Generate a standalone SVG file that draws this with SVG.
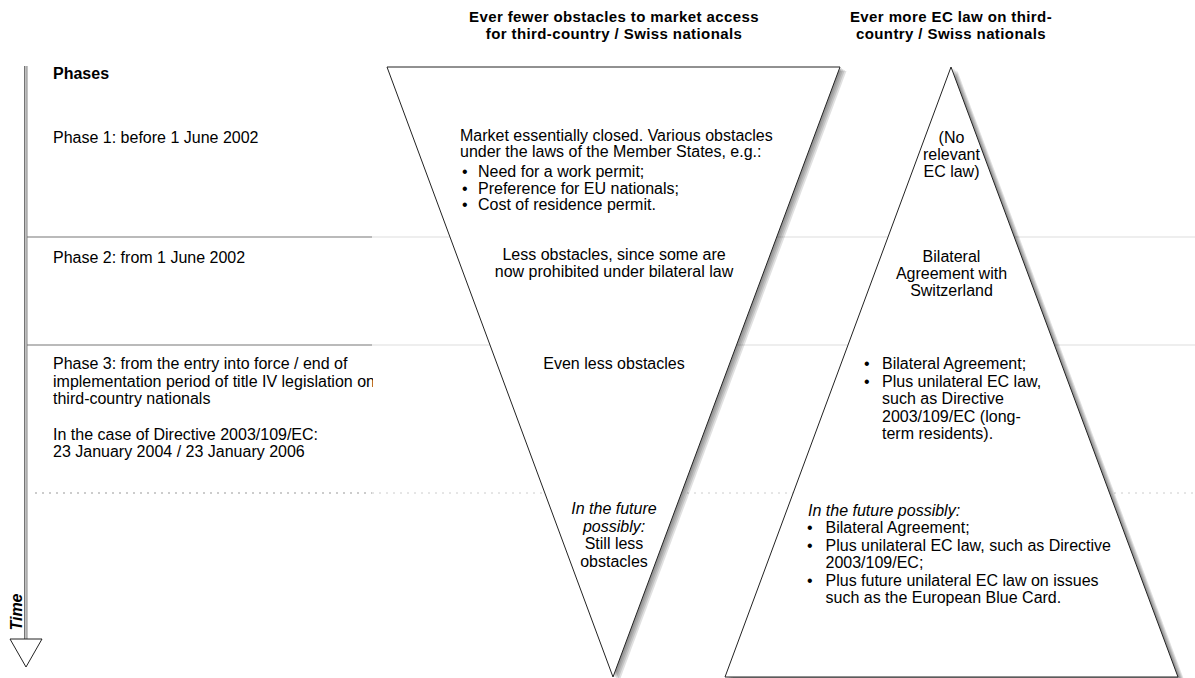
<svg xmlns="http://www.w3.org/2000/svg" width="1195" height="678" viewBox="0 0 1195 678">
<style>
text{font-family:"Liberation Sans",Arial,sans-serif;font-size:16px;fill:#000}
.h{font-weight:bold;font-size:15px;letter-spacing:0.4px;text-anchor:middle}
.b{font-weight:bold}
.c{text-anchor:middle}
.i{font-style:italic}
.tri{fill:#fff;stroke:#222;stroke-width:1}
.shd{fill:#000;fill-opacity:0.12}
.dk{stroke:#777;stroke-width:1.2}
.lt{stroke:#ddd;stroke-width:1.2}
.dd{stroke:#999;stroke-width:1;stroke-dasharray:2 5}
.dl{stroke:#ccc;stroke-width:1;stroke-dasharray:2 5}
</style>
<defs>
<clipPath id="lc"><rect x="0" y="0" width="373" height="678"/></clipPath>
</defs>
<rect width="1195" height="678" fill="#fff"/>

<g id="grid">
<line class="dk" x1="27" y1="237" x2="372" y2="237"/>
<line class="lt" x1="372" y1="237" x2="1195" y2="237"/>
<line class="dk" x1="27" y1="345" x2="372" y2="345"/>
<line class="lt" x1="372" y1="345" x2="1195" y2="345"/>
<line class="dd" x1="35" y1="493" x2="372" y2="493"/>
<line class="dl" x1="372" y1="493" x2="1195" y2="493"/>
</g>

<g id="time-axis">
<line x1="24.6" y1="66" x2="24.6" y2="639" stroke="#666" stroke-width="1"/>
<line x1="26.9" y1="66" x2="26.9" y2="639" stroke="#666" stroke-width="1"/>
<line x1="25.75" y1="66" x2="25.75" y2="639" stroke="#bbb" stroke-width="1.3"/>
<polygon points="10,639 42,639 26,667" fill="#fff" stroke="#222" stroke-width="1"/>
<text transform="translate(22,612) rotate(-90)" style="font-size:16px;font-weight:bold;font-style:italic;text-anchor:middle">Time</text>
</g>

<g id="phases" clip-path="url(#lc)">
<text class="b" x="53" y="79">Phases</text>
<text x="53" y="143">Phase 1: before 1 June 2002</text>
<text x="53" y="263">Phase 2: from 1 June 2002</text>
<text x="53" y="369">Phase 3: from the entry into force / end of</text>
<text x="53" y="386.5">implementation period of title IV legislation on</text>
<text x="53" y="404">third-country nationals</text>
<text x="53" y="440">In the case of Directive 2003/109/EC:</text>
<text x="53" y="457">23 January 2004 / 23 January 2006</text>
</g>

<g id="heading-left">
<text class="h" x="614" y="22">Ever fewer obstacles to market access</text>
<text class="h" x="614" y="39">for third-country / Swiss nationals</text>
</g>
<g id="heading-right">
<text class="h" x="951" y="22">Ever more EC law on third-</text>
<text class="h" x="951" y="39">country / Swiss nationals</text>
</g>

<g id="obstacles-triangle">
<polygon class="shd" points="389,68 842,68 615,678"/>
<polygon class="shd" points="390.5,69 843.5,69 616.5,679"/>
<polygon class="shd" points="392,70 845,70 618,680"/>
<polygon class="shd" points="393.5,71 846.5,71 619.5,681"/>
<polygon class="tri" points="387,67 840,67 613,677"/>
<text x="460" y="141">Market essentially closed. Various obstacles</text>
<text x="460" y="157">under the laws of the Member States, e.g.:</text>
<text x="462" y="177">•</text><text x="478" y="177">Need for a work permit;</text>
<text x="462" y="193.5">•</text><text x="478" y="193.5">Preference for EU nationals;</text>
<text x="462" y="210">•</text><text x="478" y="210">Cost of residence permit.</text>
<text class="c" x="614" y="259.5">Less obstacles, since some are</text>
<text class="c" x="614" y="277">now prohibited under bilateral law</text>
<text class="c" x="614" y="368.5">Even less obstacles</text>
<text class="c i" x="614" y="514">In the future</text>
<text class="c i" x="614" y="531.5">possibly:</text>
<text class="c" x="614" y="549">Still less</text>
<text class="c" x="614" y="566.5">obstacles</text>
</g>

<g id="eclaw-triangle">
<polygon class="shd" points="953,68 1180,678 727,678"/>
<polygon class="shd" points="954.5,69 1181.5,679 728.5,679"/>
<polygon class="shd" points="956,70 1183,680 730,680"/>
<polygon class="shd" points="957.5,71 1184.5,681 731.5,681"/>
<polygon class="tri" points="951,67 1178,677 725,677"/>
<text class="c" x="951.5" y="142.5">(No</text>
<text class="c" x="951.5" y="159.5">relevant</text>
<text class="c" x="951.5" y="176.5">EC law)</text>
<text class="c" x="951.5" y="262">Bilateral</text>
<text class="c" x="951.5" y="279">Agreement with</text>
<text class="c" x="951.5" y="296">Switzerland</text>
<text x="864" y="369">•</text><text x="882" y="369">Bilateral Agreement;</text>
<text x="864" y="386.5">•</text><text x="882" y="386.5">Plus unilateral EC law,</text>
<text x="882" y="404">such as Directive</text>
<text x="882" y="421.5">2003/109/EC (long-</text>
<text x="882" y="439">term residents).</text>
<text class="i" x="808" y="515.5">In the future possibly:</text>
<text x="807" y="533">•</text><text x="825.5" y="533">Bilateral Agreement;</text>
<text x="807" y="550.5">•</text><text x="825.5" y="550.5">Plus unilateral EC law, such as Directive</text>
<text x="825.5" y="568">2003/109/EC;</text>
<text x="807" y="585.5">•</text><text x="825.5" y="585.5">Plus future unilateral EC law on issues</text>
<text x="825.5" y="603">such as the European Blue Card.</text>
</g>
</svg>
